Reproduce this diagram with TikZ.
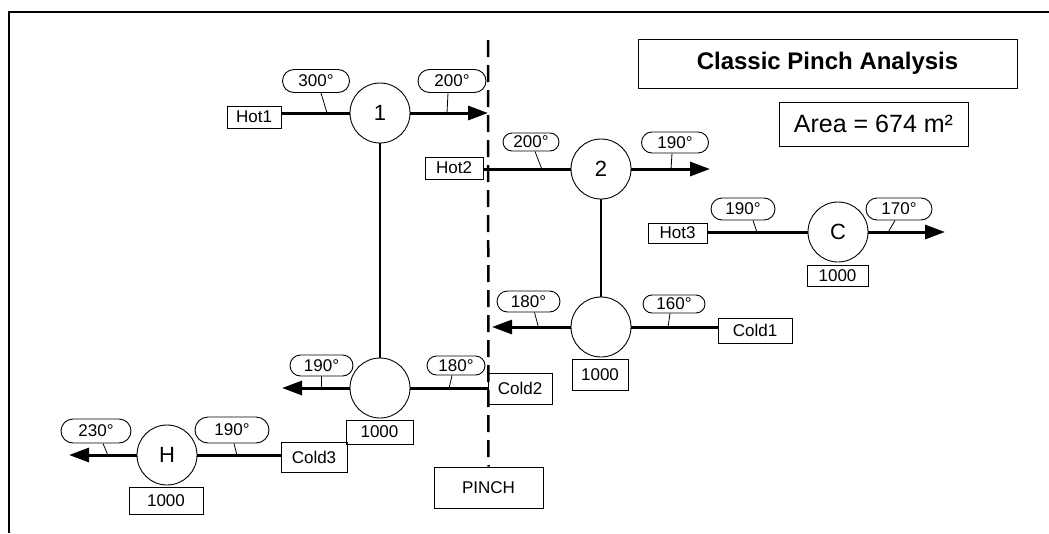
\documentclass[tikz,border=0pt]{standalone}
\usepackage{fontspec}
\setmainfont{Liberation Sans}
\usetikzlibrary{arrows.meta,shapes.misc}
\tikzset{
  kor/.style={circle,draw,line width=0.9pt,minimum size=60pt,inner sep=0pt,
    font=\fontsize{22}{24}\selectfont},
  fok/.style={rounded rectangle,draw,line width=0.9pt,minimum width=65pt,
    minimum height=22pt,inner sep=0pt},
  dob/.style={draw,line width=0.9pt,minimum height=22pt,inner sep=0pt},
  aram/.style={line width=3pt},
  nyil/.style={aram,-{Triangle[length=20pt,width=14pt]}},
  jel/.style={line width=0.8pt},
  szal/.style={line width=1.1pt},
  szagg/.style={line width=2.5pt,dash pattern=on 17pt off 8pt},
}

\begin{document}
\begin{tikzpicture}[x=1pt,y=-1pt,font=\fontsize{17}{19}\selectfont]
  \useasboundingbox (0,0) rectangle (1049,533);
  \draw[line width=1.5pt] (9,533) -- (9,12) -- (1049,12);
  % cimek
  \node[dob,line width=1pt,minimum width=379pt,minimum height=49pt,
    font=\fontsize{24}{26}\selectfont\bfseries] (cim) at (827.5,63.5) {Classic Pinch Analysis};
  \node[dob,line width=1pt,minimum width=189pt,minimum height=44pt,
    font=\fontsize{25}{27}\selectfont] (ter) at (873.5,124) {Area = 674 m²};
  % pinch
  \node[dob,minimum width=109pt,minimum height=41pt] (pinch) at (488.5,487.5) {PINCH};
  \coordinate (ptop) at (488,40);
  \draw[szagg] (ptop) -- (pinch.north);
  % Hot1
  \node[dob,minimum width=54pt] (hot1) at (254,117) {Hot1};
  \node[kor] (c1) at (380,113) {1};
  \coordinate (v1) at (488,113);
  \draw[aram] (hot1.east |- c1.west) -- (c1.west);
  \draw[nyil] (c1.east) -- (v1);
  \node[fok,minimum width=67pt,minimum height=23pt] (t300) at (316,81) {300°};
  \node[fok,minimum width=68pt,minimum height=23pt] (t200a) at (452,81) {200°};
  \draw[jel] ([xshift=5pt]t300.south) -- +(6,20);
  \draw[jel] ([xshift=-4pt]t200a.south) -- +(-1,20);
  % Hot2
  \node[dob,minimum width=58pt] (hot2) at (454,168) {Hot2};
  \node[kor] (c2) at (601,169) {2};
  \coordinate (v2) at (710,169);
  \draw[aram] (hot2.east |- c2.west) -- (c2.west);
  \draw[nyil] (c2.east) -- (v2);
  \node[fok,minimum width=56pt,minimum height=18pt] (t200b) at (531,142) {200°};
  \node[fok,minimum width=67pt,minimum height=21pt] (t190a) at (675,142.5) {190°};
  \draw[jel] ([xshift=4pt]t200b.south) -- +(7,18);
  \draw[jel] ([xshift=-3pt]t190a.south) -- +(-1,16);
  % Hot3
  \node[dob,minimum width=59pt,minimum height=20pt] (hot3) at (677.5,233) {Hot3};
  \node[kor] (cc) at (838,232) {C};
  \node[dob,minimum width=61pt,minimum height=21pt] (qc) at (837.5,275.5) {1000};
  \coordinate (v3) at (945,232);
  \draw[aram] (hot3.east |- cc.west) -- (cc.west);
  \draw[nyil] (cc.east) -- (v3);
  \node[fok,minimum width=64pt] (t190b) at (743,209) {190°};
  \node[fok,minimum width=66pt] (t170) at (899,209) {170°};
  \draw[jel] ([xshift=10pt]t190b.south) -- +(4,12);
  \draw[jel] ([xshift=-4pt]t170.south) -- +(-7,12);
  % Cold1
  \node[dob,minimum width=74pt,minimum height=25pt] (cold1) at (755,330.5) {Cold1};
  \node[kor] (k1) at (601,327) {};
  \node[dob,minimum width=56pt,minimum height=31pt] (q1) at (600,374.5) {1000};
  \coordinate (v4) at (492,327);
  \draw[aram] (cold1.west |- k1.east) -- (k1.east);
  \draw[nyil] (k1.west) -- (v4);
  \node[fok,minimum width=63pt,minimum height=21pt] (t180a) at (528.5,301.5) {180°};
  \node[fok,minimum width=62pt,minimum height=18pt] (t160) at (674,304) {160°};
  \draw[jel] ([xshift=6pt]t180a.south) -- +(4,15);
  \draw[jel] ([xshift=-4pt]t160.south) -- +(-2,14);
  % Cold2
  \node[dob,minimum width=64pt,minimum height=31pt] (cold2) at (520,388.5) {Cold2};
  \node[kor] (k2) at (380,388) {};
  \node[dob,minimum width=67pt,minimum height=24pt] (q2) at (379.5,432) {1000};
  \coordinate (v5) at (282,388);
  \draw[aram] (cold2.west |- k2.east) -- (k2.east);
  \draw[nyil] (k2.west) -- (v5);
  \node[fok,minimum width=63pt,minimum height=21pt] (t190c) at (321.5,365.5) {190°};
  \node[fok,minimum width=58pt,minimum height=19pt] (t180b) at (456,365.5) {180°};
  \draw[jel] (t190c.south) -- +(0,12);
  \draw[jel] ([xshift=-4pt]t180b.south) -- +(-3,13);
  % Cold3
  \node[dob,minimum width=66pt,minimum height=30pt] (cold3) at (314,457) {Cold3};
  \node[kor] (kh) at (167,455) {H};
  \node[dob,minimum width=74pt,minimum height=27pt] (qh) at (166,500.5) {1000};
  \coordinate (v6) at (69,455);
  \draw[aram] (cold3.west |- kh.east) -- (kh.east);
  \draw[nyil] (kh.west) -- (v6);
  \node[fok,minimum width=70pt,minimum height=24pt] (t230) at (96,431) {230°};
  \node[fok,minimum width=74pt,minimum height=26pt] (t190d) at (232,430) {190°};
  \draw[jel] ([xshift=7pt]t230.south) -- +(5,12);
  \draw[jel] ([xshift=2pt]t190d.south) -- +(3,12);
  % hocserelok kapcsolata
  \draw[szal] (c1.south) -- (k2.north);
  \draw[szal] (c2.south) -- (k1.north);
\end{tikzpicture}
\end{document}
